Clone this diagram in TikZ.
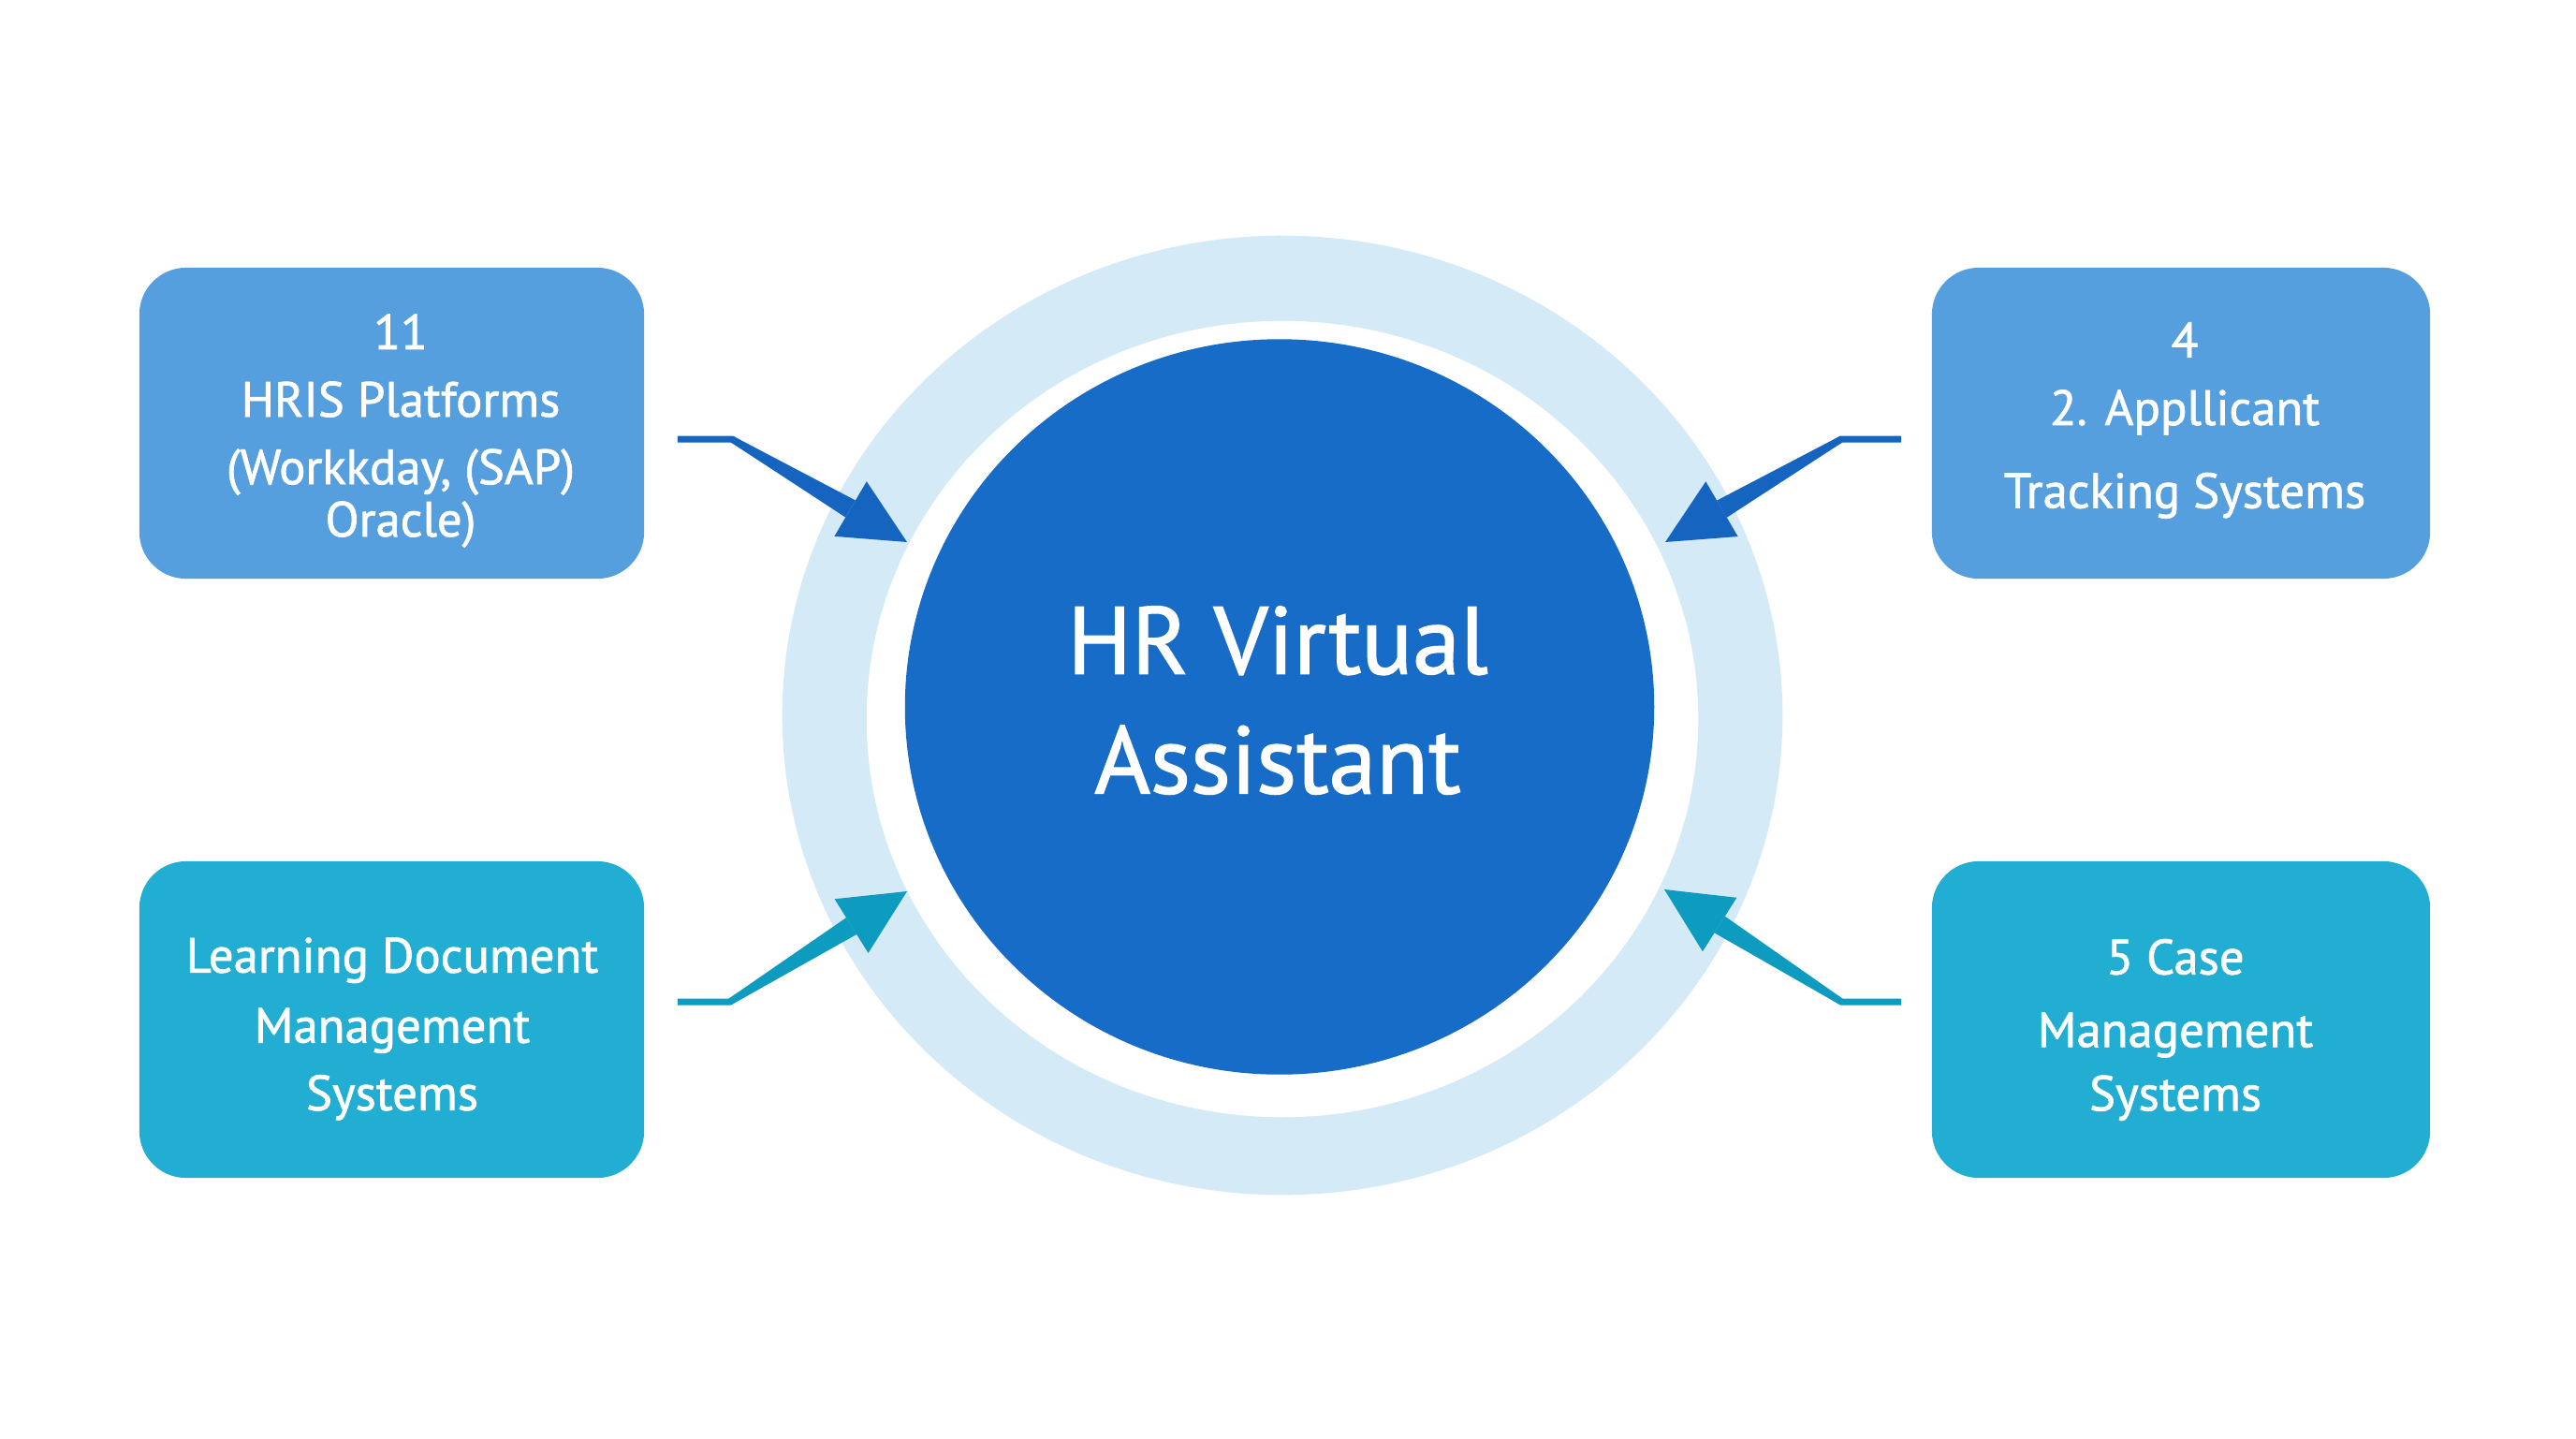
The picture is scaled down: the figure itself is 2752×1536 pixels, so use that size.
\documentclass[tikz,border=0pt]{standalone}
\usepackage{fontspec}
\setmainfont{PT Sans}[RawFeature={embolden=1.4}]
\usetikzlibrary{shapes.geometric,calc}
\definecolor{ringblue}{RGB}{213,234,247}
\definecolor{coreblue}{RGB}{22,108,198}
\definecolor{topbox}{RGB}{85,159,223}
\definecolor{lowbox}{RGB}{34,173,210}
\definecolor{toparrow}{RGB}{21,101,192}
\definecolor{lowarrow}{RGB}{14,155,192}
\tikzset{
  sysbox/.style={rectangle,rounded corners=0.5cm,minimum width=5.39cm,minimum height=3.32cm,inner sep=0pt},
  boxtext/.style={text=white,align=center,inner sep=0pt,font=\fontsize{15}{20.5}\selectfont},
  disc/.style={ellipse,inner sep=0pt}
}
\begin{document}
\begin{tikzpicture}[x=0.01cm,y=-0.01cm]
\useasboundingbox[fill=white](0,0)rectangle(2752,1536);
%rings and centre disc
\node[disc,fill=ringblue,minimum width=10.68cm,minimum height=10.24cm](halo)at(1370,764){};
\node[disc,fill=white,minimum width=8.88cm,minimum height=8.5cm](gap)at(1370,768){};
\node[disc,fill=coreblue,minimum width=8cm,minimum height=7.85cm](core)at(1367,755){};
\node[text=white,align=center,inner sep=0pt,font=\fontsize{29}{36.3}\selectfont](title)at(1365,748){HR Virtual\\Assistant};
%system boxes
\node[sysbox,fill=topbox](hris)at(418.5,452){};
\node[sysbox,fill=topbox,minimum width=5.32cm](ats)at(2330,452){};
\node[sysbox,fill=lowbox,minimum height=3.38cm](ldms)at(418.5,1089){};
\node[sysbox,fill=lowbox,minimum width=5.32cm,minimum height=3.38cm](cms)at(2330,1089){};
%box texts
\node[boxtext](hristext)at(428,460){11\\HRIS Platforms\\(Workkday, (SAP)\\[-4.6pt]Oracle)};
\node[boxtext](atstext)at(2334,449){4\\2. Appllicant\\[4.7pt]Tracking Systems};
\node[boxtext](ldmstext)at(419,1099){Learning Document\\[0.8pt]Management\\Systems};
\node[boxtext](cmstext)at(2324,1100){5 Case\\[1.6pt]Management\\[-1.2pt]Systems};
%arrows into the ring
\coordinate(a1s)at($(hris.east)+(35,17)$);
\coordinate(a1b)at($(a1s)+(58,0)$);
\coordinate(a1t)at(969,579);
\coordinate(a2s)at($(ats.west)+(-32,17)$);
\coordinate(a2b)at($(a2s)+(-64,0)$);
\coordinate(a2t)at(1779,579);
\coordinate(a3s)at($(ldms.east)+(35,-19)$);
\coordinate(a3b)at($(a3s)+(56,0)$);
\coordinate(a3t)at(969,952);
\coordinate(a4s)at($(cms.west)+(-32,-19)$);
\coordinate(a4b)at($(a4s)+(-64,0)$);
\coordinate(a4t)at(1778,950);
\foreach \a/\c in {a1/toparrow,a2/toparrow,a3/lowarrow,a4/lowarrow}{
\coordinate(\a m)at($(\a t)!0.7cm!(\a b)$);
\draw[\c,line width=0.07cm](\a s)--(\a b)--($(\a b)!0.3!(\a m)$);
\fill[\c]($(\a b)!0.035cm!90:(\a m)$)--($(\a m)!0.105cm!-90:(\a b)$)--($(\a m)!0.105cm!90:(\a b)$)--($(\a b)!0.035cm!-90:(\a m)$)--cycle;
\fill[\c](\a t)--($(\a m)!0.34cm!90:(\a t)$)--($(\a m)!0.34cm!-90:(\a t)$)--cycle;
}
\end{tikzpicture}
\end{document}
